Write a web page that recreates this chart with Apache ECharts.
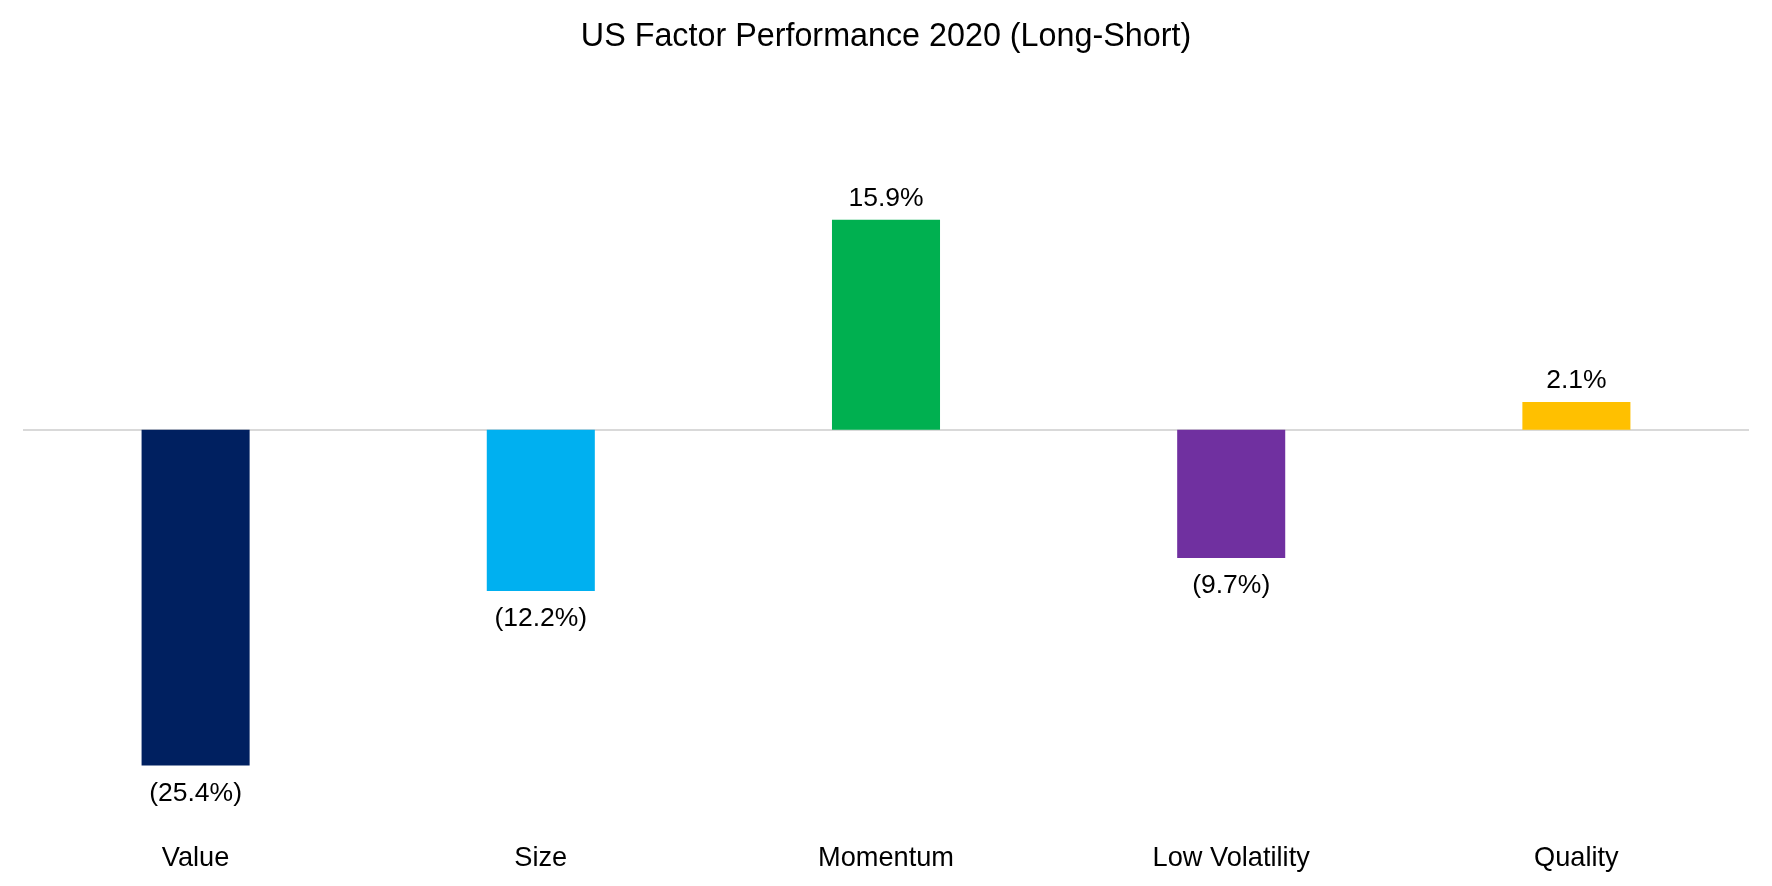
<!DOCTYPE html>
<html>
<head>
<meta charset="utf-8">
<script src="https://cdn.jsdelivr.net/npm/echarts@6/dist/echarts.min.js"></script>
<style>
html,body{margin:0;padding:0;background:#fff;}
#chart{width:1772px;height:886px;}
</style>
</head>
<body>
<div id="chart"></div>
<script>
const titleText = 'US Factor Performance 2020 (Long-Short)';
const categories = ['Value', 'Size', 'Momentum', 'Low Volatility', 'Quality'];
const values = [-25.4, -12.2, 15.9, -9.7, 2.1];
const colors = ['#002060', '#00B0F0', '#00B050', '#7030A0', '#FFC000'];

const FONT = '"Liberation Sans", Arial, sans-serif';

function fmt(v) {
  const s = Math.abs(v).toFixed(1) + '%';
  return v < 0 ? '(' + s + ')' : s;
}

const chart = echarts.init(document.getElementById('chart'), null, {renderer: 'canvas'});
chart.setOption({
  backgroundColor: '#ffffff',
  animation: false,
  title: {
    text: titleText,
    left: 'center',
    top: 16.5,
    textStyle: {fontFamily: FONT, fontSize: 32.3, fontWeight: 'normal', color: '#000'}
  },
  grid: {left: 23, right: 23, top: 165.5, bottom: 59.75, containLabel: false},
  xAxis: {
    type: 'category',
    data: categories,
    axisLine: {show: false, onZero: false},
    axisTick: {show: false},
    axisLabel: {
      margin: 18.5,
      fontFamily: FONT,
      fontSize: 27.2,
      color: '#000'
    },
    splitLine: {show: false}
  },
  yAxis: {
    type: 'value',
    min: -30,
    max: 20,
    show: false,
    splitLine: {show: false}
  },
  series: [{
    type: 'bar',
    barWidth: '31.3%',
    data: values.map((v, i) => ({
      value: v,
      itemStyle: {color: colors[i]},
      label: {position: v < 0 ? 'bottom' : 'top', distance: v < 0 ? 14.5 : 7.5}
    })),
    label: {
      show: true,
      fontFamily: FONT,
      fontSize: 26.5,
      color: '#000',
      formatter: p => fmt(p.value)
    },
    markLine: {
      silent: true,
      symbol: ['none', 'none'],
      label: {show: false},
      lineStyle: {color: '#d9d9d9', width: 2, type: 'solid'},
      data: [{yAxis: 0}],
      z: 1
    },
    z: 2
  }]
});
</script>
</body>
</html>
